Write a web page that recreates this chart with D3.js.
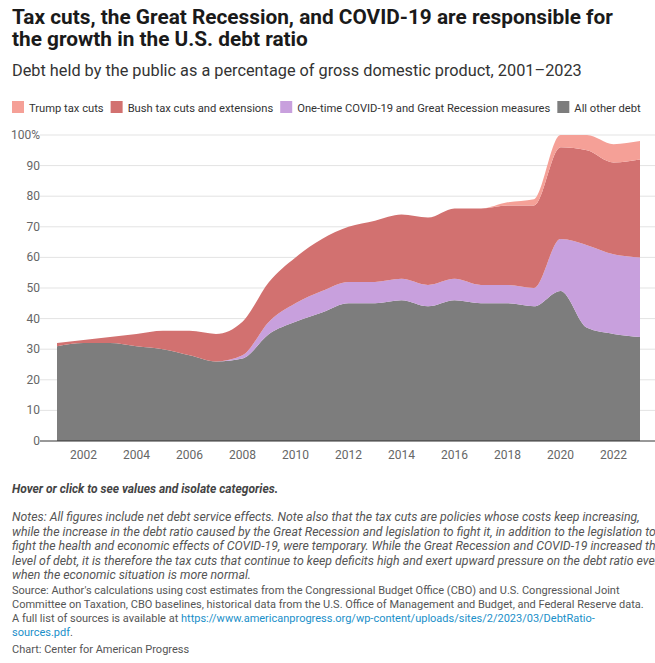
<!DOCTYPE html>
<html><head><meta charset="utf-8">
<script src="https://cdn.jsdelivr.net/npm/d3@7"></script>
<style>
body{margin:0;background:#fff;font-family:Roboto,sans-serif;}
svg text{font-family:Roboto,sans-serif;}
</style></head><body>
<svg id="c" width="655" height="663"></svg>
<script>
var years = d3.range(2001, 2024);
var otherDebt = [31,32,32,31,30,28,26,27,35,39,42,45,45,46,44,46,45,45,44,49,37,35,34];
var covidGR   = [0,0,0,0,0,0,0,1,4,6,7,7,7,7,7,7,6,6,6,17,27,26,26];
var bushCuts  = [1,1,2,4,6,8,9,11,13,15,17,18,20,21,22,23,25,26,27,30,31,30,32];
var trumpCuts = [0,0,0,0,0,0,0,0,0,0,0,0,0,0,0,0,0,1,2,4,5,6,6];
var yTicks = [0,10,20,30,40,50,60,70,80,90,100];
var xTicks = [2002,2004,2006,2008,2010,2012,2014,2016,2018,2020,2022];
var keys = ["other","covid","bush","trump"];
var labels = {trump:"Trump tax cuts", bush:"Bush tax cuts and extensions", covid:"One-time COVID-19 and Great Recession measures", other:"All other debt"};
var colors = {trump:"#f5a097", bush:"#d27170", covid:"#c8a0dd", other:"#7d7d7d"};

var rows = years.map(function(y, i){
    return {year:y, other:otherDebt[i], covid:covidGR[i], bush:bushCuts[i], trump:trumpCuts[i]};
});

var svg = d3.select("#c");
svg.append("text").attr("x",12).attr("y",24).style("font-size","20.8px").style("font-weight","bold").attr("fill","#1a1a1a")
  .text("Tax cuts, the Great Recession, and COVID-19 are responsible for");
svg.append("text").attr("x",12).attr("y",46).style("font-size","20.8px").style("font-weight","bold").attr("fill","#1a1a1a")
  .text("the growth in the U.S. debt ratio");
svg.append("text").attr("x",12).attr("y",76).style("font-size","16.3px").attr("fill","#333")
  .text("Debt held by the public as a percentage of gross domestic product, 2001\u20132023");

// legend
var legOrder = ["trump","bush","covid","other"];
var lx = 12;
legOrder.forEach(function(k){
    var g = svg.append("g").attr("transform","translate("+lx+",101)");
    g.append("rect").attr("width",12).attr("height",12).attr("fill",colors[k]);
    var t = g.append("text").attr("x",17).attr("y",10.5).style("font-size","11.2px").attr("fill","#333").text(labels[k]);
    lx += 17 + t.node().getComputedTextLength() + 7;
});

var x = d3.scaleLinear().domain([2001,2023]).range([57,640]);
var y = d3.scaleLinear().domain([0,100]).range([441,135]);

var grid = svg.append("g");
yTicks.forEach(function(t){
    if (t>0) grid.append("line").attr("x1",40).attr("x2",655).attr("y1",y(t)).attr("y2",y(t)).attr("stroke","#e3e3e3");
    grid.append("text").attr("x",40).attr("y",y(t)+4).attr("text-anchor","end").style("font-size","12px").attr("fill","#666")
      .text(t===100 ? "100%" : t);
});

var stack = d3.stack().keys(keys)(rows);
var area = d3.area().curve(d3.curveMonotoneX)
  .x(function(d){ return x(d.data.year); })
  .y0(function(d){ return y(d[0]); })
  .y1(function(d){ return y(Math.min(d[1],100)); });
svg.append("g").selectAll("path").data(stack).enter().append("path")
  .attr("d", area).attr("fill", function(d){ return colors[d.key]; });

svg.append("line").attr("x1",40).attr("x2",655).attr("y1",y(0)).attr("y2",y(0)).attr("stroke","#333");
xTicks.forEach(function(t){
    svg.append("text").attr("x",x(t)).attr("y",459).attr("text-anchor","middle").style("font-size","12px").attr("fill","#666").text(t);
});

svg.append("text").attr("x",12).attr("y",493).style("font-size","12px").style("font-weight","bold").style("font-style","italic").attr("fill","#444")
  .text("Hover or click to see values and isolate categories.");

var notes = ["Notes: All figures include net debt service effects. Note also that the tax cuts are policies whose costs keep increasing,",
 "while the increase in the debt ratio caused by the Great Recession and legislation to fight it, in addition to the legislation to",
 "fight the health and economic effects of COVID-19, were temporary. While the Great Recession and COVID-19 increased the",
 "level of debt, it is therefore the tax cuts that continue to keep deficits high and exert upward pressure on the debt ratio even",
 "when the economic situation is more normal."];
notes.forEach(function(s,i){
    svg.append("text").attr("x",12).attr("y",521+i*14.5).style("font-size","12.3px").style("font-style","italic").attr("fill","#555").text(s);
});
var src = ["Source: Author's calculations using cost estimates from the Congressional Budget Office (CBO) and U.S. Congressional Joint",
 "Committee on Taxation, CBO baselines, historical data from the U.S. Office of Management and Budget, and Federal Reserve data."];
src.forEach(function(s,i){
    svg.append("text").attr("x",12).attr("y",594+i*14).style("font-size","11px").attr("fill","#555").text(s);
});
var t3 = svg.append("text").attr("x",12).attr("y",622).style("font-size","11px").attr("fill","#555");
t3.append("tspan").text("A full list of sources is available at ");
t3.append("tspan").attr("fill","#1a8fc9").text("https://www.americanprogress.org/wp-content/uploads/sites/2/2023/03/DebtRatio-");
svg.append("text").attr("x",12).attr("y",636).style("font-size","11px").attr("fill","#1a8fc9").text("sources.pdf")
  .append("tspan").attr("fill","#555").text(".");
svg.append("text").attr("x",12).attr("y",653).style("font-size","11px").attr("fill","#555").text("Chart: Center for American Progress");
</script></body></html>
